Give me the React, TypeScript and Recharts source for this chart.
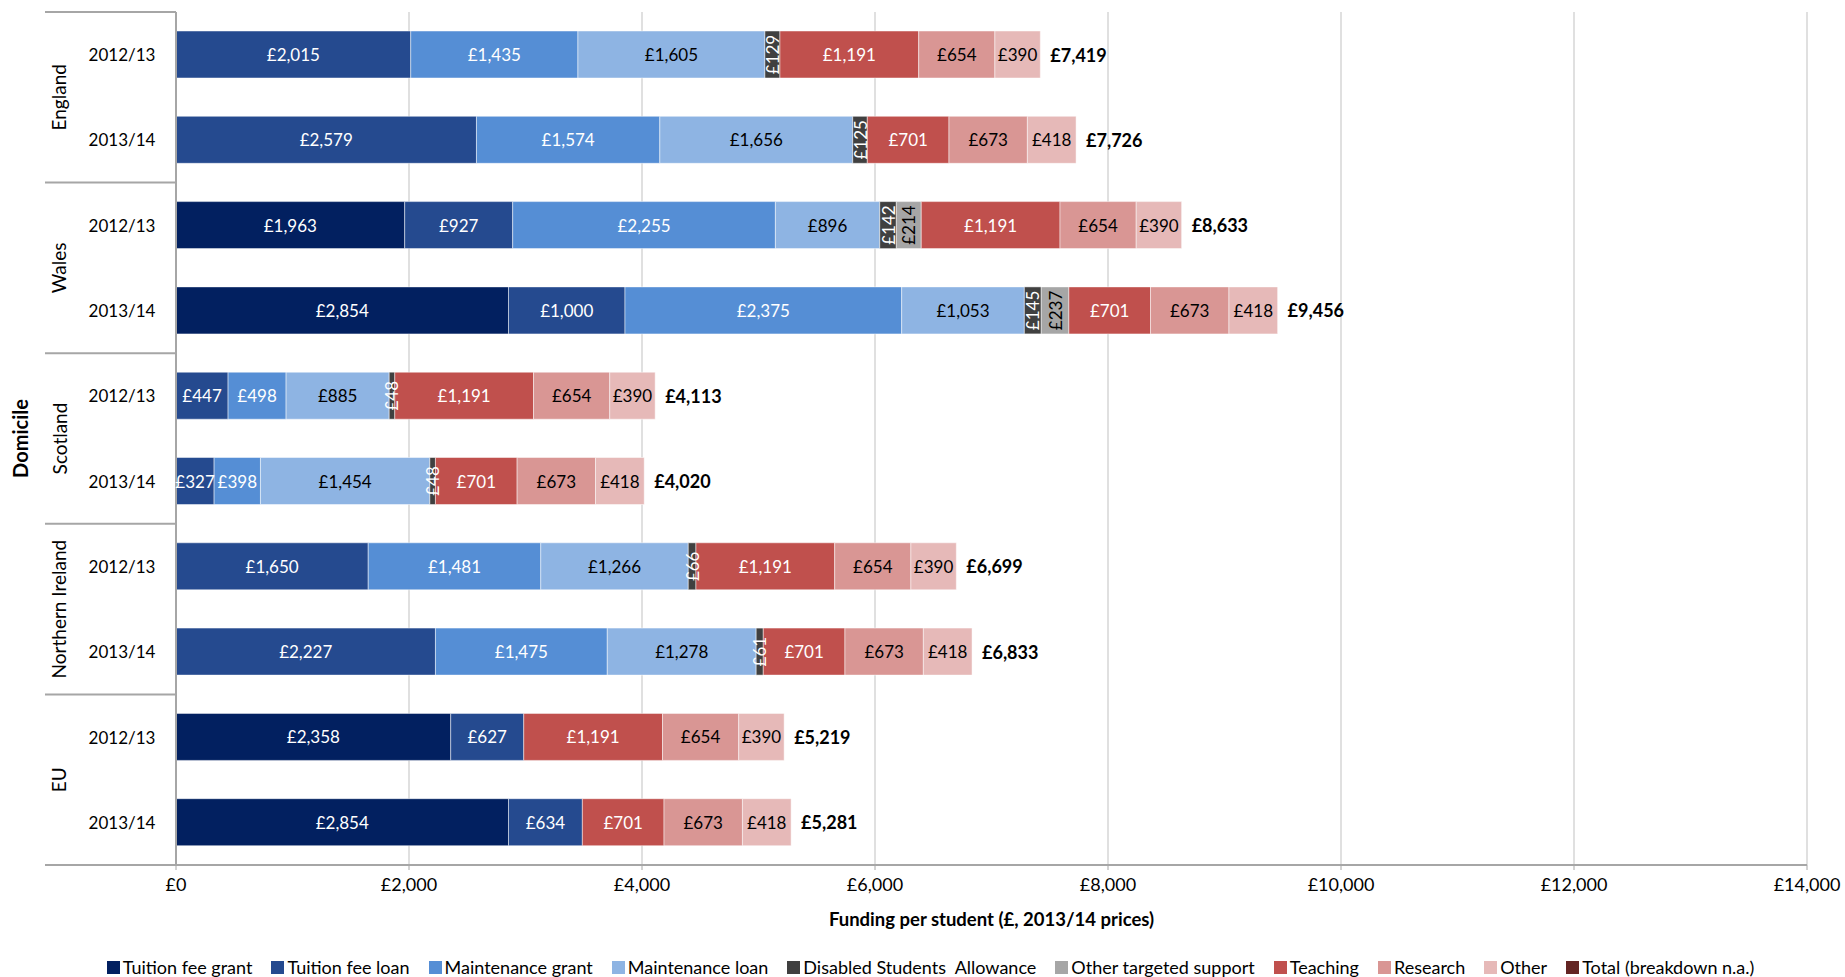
import React from "react"
import { BarChart, Bar, XAxis, YAxis, CartesianGrid, LabelList } from "recharts"

const domiciles = ["England", "Wales", "Scotland", "Northern Ireland", "EU"]
const years = ["2012/13", "2013/14"]

// one entry per bar, top to bottom: each domicile for 2012/13 then 2013/14
const tuitionFeeGrant = [0, 0, 1963, 2854, 0, 0, 0, 0, 2358, 2854]
const tuitionFeeLoan = [2015, 2579, 927, 1000, 447, 327, 1650, 2227, 627, 634]
const maintenanceGrant = [1435, 1574, 2255, 2375, 498, 398, 1481, 1475, 0, 0]
const maintenanceLoan = [1605, 1656, 896, 1053, 885, 1454, 1266, 1278, 0, 0]
const disabledStudents = [129, 125, 142, 145, 48, 48, 66, 61, 0, 0]
const otherTargeted = [0, 0, 214, 237, 0, 0, 0, 0, 0, 0]
const teaching = [1191, 701, 1191, 701, 1191, 701, 1191, 701, 1191, 701]
const research = [654, 673, 654, 673, 654, 673, 654, 673, 654, 673]
const other = [390, 418, 390, 418, 390, 418, 390, 418, 390, 418]
const totals = [7419, 7726, 8633, 9456, 4113, 4020, 6699, 6833, 5219, 5281]

const xTicks = [0, 2000, 4000, 6000, 8000, 10000, 12000, 14000]

const SERIES = [
  { key: "tfg", name: "Tuition fee grant", color: "#022060", text: "#fff", values: tuitionFeeGrant },
  { key: "tfl", name: "Tuition fee loan", color: "#254A8F", text: "#fff", values: tuitionFeeLoan },
  { key: "mg", name: "Maintenance grant", color: "#558ED5", text: "#fff", values: maintenanceGrant },
  { key: "ml", name: "Maintenance loan", color: "#8EB4E3", text: "#000", values: maintenanceLoan },
  { key: "dsa", name: "Disabled Students  Allowance", color: "#404040", text: "#fff", values: disabledStudents, vertical: true },
  { key: "ots", name: "Other targeted support", color: "#A6A6A6", text: "#000", values: otherTargeted, vertical: true },
  { key: "teach", name: "Teaching", color: "#C0504D", text: "#fff", values: teaching },
  { key: "res", name: "Research", color: "#D99694", text: "#000", values: research },
  { key: "oth", name: "Other", color: "#E6B9B8", text: "#000", values: other },
]
const LEGEND = [
  ...SERIES.map((s) => ({ name: s.name, color: s.color })),
  { name: "Total (breakdown n.a.)", color: "#632523" },
]

const rows = totals.map((total, i) => {
  const row: Record<string, any> = {
    id: String(i),
    domicile: domiciles[Math.floor(i / 2)],
    year: years[i % 2],
    total,
  }
  SERIES.forEach((s) => (row[s.key] = s.values[i]))
  return row
})

const W = 1845
const H = 977
const TOP = 12
const RIGHT = 38
const Y_AXIS_W = 176
const X_AXIS_H = 112
const BAND = (H - TOP - X_AXIS_H) / rows.length
const FONT = "Lato, 'Open Sans', sans-serif"
const LINE = "#A6A6A6"

const fmt = (v: number) => `£${v.toLocaleString("en-GB")}`

const segmentLabel = (fill: string, vertical?: boolean) => (props: any) => {
  const { value } = props
  if (!value) return null
  const vb = props.viewBox ?? props
  const cx = vb.x + vb.width / 2
  const cy = vb.y + vb.height / 2
  return (
    <text
      x={cx}
      y={cy}
      fill={fill}
      fontSize={17}
      fontFamily={FONT}
      textAnchor="middle"
      dominantBaseline="central"
      transform={vertical ? `rotate(-90 ${cx} ${cy})` : undefined}
    >
      {fmt(value)}
    </text>
  )
}

const totalLabel = (props: any) => {
  const vb = props.viewBox ?? props
  return (
    <text
      x={vb.x + vb.width + 10}
      y={vb.y + vb.height / 2}
      fontSize={18}
      fontWeight="bold"
      fontFamily={FONT}
      fill="#000"
      dominantBaseline="central"
    >
      {fmt(props.value)}
    </text>
  )
}

// year label plus the domicile grouping (rotated name and separator lines)
function DomicileTick(props: any) {
  const { y, payload } = props
  const i = Number(payload.value)
  const row = rows[i]
  const half = BAND / 2
  return (
    <g>
      <text x={122} y={y} fontSize={17} fontFamily={FONT} fill="#000" textAnchor="middle" dominantBaseline="central">
        {row.year}
      </text>
      {i % 2 === 0 && (
        <>
          <line x1={45} x2={Y_AXIS_W} y1={y - half} y2={y - half} stroke={LINE} strokeWidth={2} />
          <text
            x={59}
            y={y + half}
            fontSize={19}
            fontFamily={FONT}
            fill="#000"
            textAnchor="middle"
            dominantBaseline="central"
            transform={`rotate(-90 59 ${y + half})`}
          >
            {row.domicile}
          </text>
        </>
      )}
      {i === rows.length - 1 && (
        <line x1={45} x2={Y_AXIS_W} y1={y + half} y2={y + half} stroke={LINE} strokeWidth={2} />
      )}
    </g>
  )
}

function DomicileTitle(props: any) {
  const vb = props.viewBox
  const cy = vb.y + vb.height / 2
  return (
    <text
      x={20}
      y={cy}
      fontSize={20}
      fontWeight="bold"
      fontFamily={FONT}
      fill="#000"
      textAnchor="middle"
      dominantBaseline="central"
      transform={`rotate(-90 20 ${cy})`}
    >
      Domicile
    </text>
  )
}

function FundingTitle(props: any) {
  const vb = props.viewBox
  return (
    <text
      x={vb.x + vb.width / 2}
      y={vb.y + 54}
      fontSize={18.5}
      fontWeight="bold"
      fontFamily={FONT}
      fill="#000"
      textAnchor="middle"
      dominantBaseline="central"
    >
      Funding per student (£, 2013/14 prices)
    </text>
  )
}

export default function App() {
  return (
    <div style={{ position: "relative", width: W, height: H, overflow: "hidden", fontFamily: FONT, background: "#fff" }}>
      <style>{"body{margin:0}"}</style>
      <BarChart
        width={W}
        height={H}
        data={rows}
        layout="vertical"
        barSize={47}
        margin={{ top: TOP, right: RIGHT, bottom: 0, left: 0 }}
      >
        <CartesianGrid horizontal={false} stroke="#D0D0D0" strokeWidth={1.3} />
        <XAxis
          type="number"
          domain={[0, 14000]}
          ticks={xTicks}
          height={X_AXIS_H}
          tickFormatter={fmt}
          tick={{ fill: "#000", fontSize: 18, fontFamily: FONT }}
          tickSize={5}
          tickMargin={8}
          axisLine={{ stroke: LINE, strokeWidth: 2 }}
          tickLine={{ stroke: LINE }}
          label={<FundingTitle />}
        />
        <YAxis
          type="category"
          dataKey="id"
          width={Y_AXIS_W}
          interval={0}
          tickLine={false}
          axisLine={{ stroke: LINE, strokeWidth: 2 }}
          tick={<DomicileTick />}
          label={<DomicileTitle />}
        />
        {SERIES.map((s) => (
          <Bar
            key={s.key}
            dataKey={s.key}
            name={s.name}
            stackId="a"
            fill={s.color}
            stroke="#fff"
            strokeOpacity={0.6}
            strokeWidth={0.8}
            isAnimationActive={false}
          >
            <LabelList dataKey={s.key} content={segmentLabel(s.text, s.vertical)} />
            {s.key === "oth" && <LabelList dataKey="total" content={totalLabel} />}
          </Bar>
        ))}
      </BarChart>
      <div
        style={{
          position: "absolute",
          top: 957,
          left: 18,
          width: W - 20,
          display: "flex",
          justifyContent: "center",
          gap: 19,
          fontSize: 18,
          lineHeight: "20px",
          whiteSpace: "pre",
        }}
      >
        {LEGEND.map((l) => (
          <div key={l.name} style={{ display: "flex", alignItems: "center" }}>
            <span style={{ width: 13, height: 13, background: l.color, marginRight: 3 }} />
            <span>{l.name}</span>
          </div>
        ))}
      </div>
    </div>
  )
}
